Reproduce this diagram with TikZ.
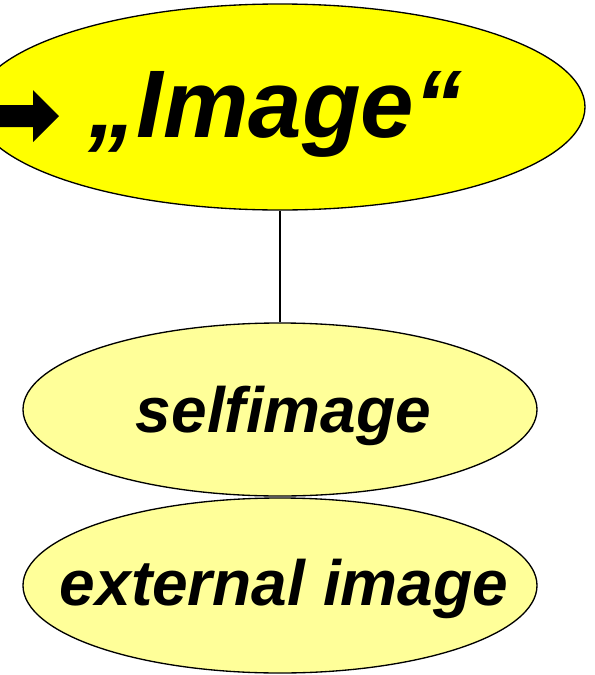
\documentclass[tikz,border=0pt]{standalone}
\usepackage{fontspec}
\setmainfont{Liberation Sans}
\usetikzlibrary{shapes.geometric}
\definecolor{topyellow}{HTML}{FFFF00}
\definecolor{paleyellow}{HTML}{FFFF99}
\begin{document}
\begin{tikzpicture}[x=0.75pt,y=-0.75pt,
  ellbox/.style={ellipse,draw=black,line width=1pt,inner sep=0pt},
  bigtext/.style={anchor=base,inner sep=0pt,font=\fontsize{72}{80}\selectfont\bfseries\itshape},
  midtext/.style={anchor=base,inner sep=0pt,font=\fontsize{48}{56}\selectfont\bfseries\itshape},
  link/.style={draw=black,line width=0.9pt}]
\useasboundingbox (0,0) rectangle (594,675);
\node[ellbox,fill=topyellow,minimum width=457.5pt,minimum height=154.5pt] (top) at (280,107) {};
\node[ellbox,fill=paleyellow,minimum width=385.5pt,minimum height=129.75pt] (self) at (280,409.5) {};
\node[ellbox,fill=paleyellow,minimum width=385.5pt,minimum height=131.25pt] (ext) at (280,585.5) {};
\draw[link] (top.south) -- (self.north);
\fill[black] (-5,105) -- (33,105) -- (33,90) -- (59,116) -- (33,142) -- (33,127) -- (-5,127) -- cycle;
\node[bigtext] (toptext) at (275.5,137) {„Image“};
\node[midtext] (selftext) at (283.5,432) {selfimage};
\node[midtext] (exttext) at (284,605) {external image};
\end{tikzpicture}
\end{document}
